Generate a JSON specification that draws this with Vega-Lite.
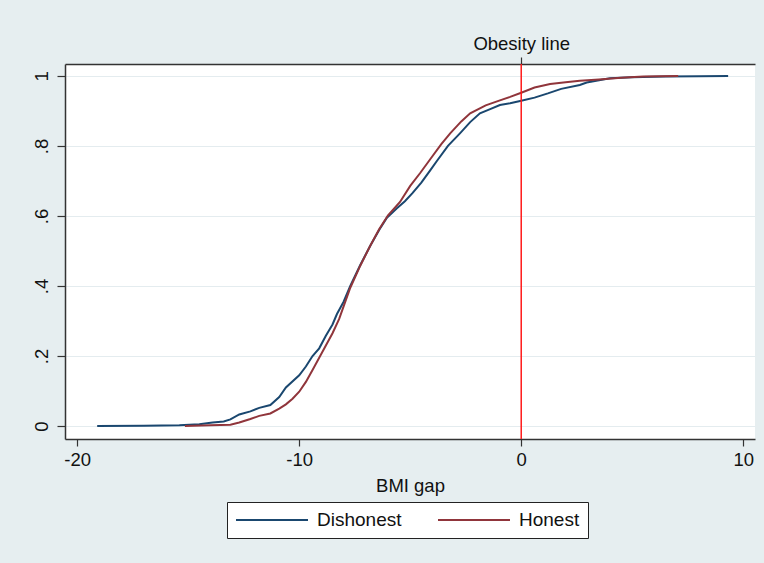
{
  "$schema": "https://vega.github.io/schema/vega-lite/v6.json",
  "autosize": {"type": "none"},
  "width": 690,
  "height": 375,
  "padding": {"left": 65, "top": 64, "right": 9, "bottom": 124},
  "background": "#e6eef0",
  "config": {
    "font": "Liberation Sans",
    "view": {"stroke": null, "fill": "white"},
    "axis": {"domainColor": "#333333", "domainWidth": 1.5, "tickColor": "#333333", "tickWidth": 1.2, "labelColor": "#111111", "titleColor": "#111111", "labelFont": "Liberation Sans", "titleFont": "Liberation Sans", "titleFontWeight": "normal"}
  },
  "datasets": {
    "cdf": [
      {"x": -19.1, "y": 0.0, "group": "Dishonest"},
      {"x": -17.0, "y": 0.001, "group": "Dishonest"},
      {"x": -15.4, "y": 0.002, "group": "Dishonest"},
      {"x": -14.5, "y": 0.005, "group": "Dishonest"},
      {"x": -13.9, "y": 0.010, "group": "Dishonest"},
      {"x": -13.4, "y": 0.013, "group": "Dishonest"},
      {"x": -13.1, "y": 0.019, "group": "Dishonest"},
      {"x": -12.7, "y": 0.033, "group": "Dishonest"},
      {"x": -12.2, "y": 0.042, "group": "Dishonest"},
      {"x": -11.8, "y": 0.052, "group": "Dishonest"},
      {"x": -11.3, "y": 0.060, "group": "Dishonest"},
      {"x": -10.9, "y": 0.083, "group": "Dishonest"},
      {"x": -10.6, "y": 0.110, "group": "Dishonest"},
      {"x": -10.0, "y": 0.145, "group": "Dishonest"},
      {"x": -9.7, "y": 0.170, "group": "Dishonest"},
      {"x": -9.4, "y": 0.200, "group": "Dishonest"},
      {"x": -9.1, "y": 0.222, "group": "Dishonest"},
      {"x": -8.8, "y": 0.258, "group": "Dishonest"},
      {"x": -8.5, "y": 0.290, "group": "Dishonest"},
      {"x": -8.3, "y": 0.320, "group": "Dishonest"},
      {"x": -8.0, "y": 0.355, "group": "Dishonest"},
      {"x": -7.7, "y": 0.400, "group": "Dishonest"},
      {"x": -7.25, "y": 0.460, "group": "Dishonest"},
      {"x": -6.8, "y": 0.515, "group": "Dishonest"},
      {"x": -6.4, "y": 0.560, "group": "Dishonest"},
      {"x": -6.05, "y": 0.595, "group": "Dishonest"},
      {"x": -5.6, "y": 0.622, "group": "Dishonest"},
      {"x": -5.24, "y": 0.642, "group": "Dishonest"},
      {"x": -4.9, "y": 0.665, "group": "Dishonest"},
      {"x": -4.5, "y": 0.695, "group": "Dishonest"},
      {"x": -4.1, "y": 0.730, "group": "Dishonest"},
      {"x": -3.8, "y": 0.757, "group": "Dishonest"},
      {"x": -3.3, "y": 0.800, "group": "Dishonest"},
      {"x": -2.76, "y": 0.836, "group": "Dishonest"},
      {"x": -2.3, "y": 0.868, "group": "Dishonest"},
      {"x": -1.86, "y": 0.893, "group": "Dishonest"},
      {"x": -1.4, "y": 0.905, "group": "Dishonest"},
      {"x": -0.96, "y": 0.917, "group": "Dishonest"},
      {"x": -0.5, "y": 0.922, "group": "Dishonest"},
      {"x": 0.0, "y": 0.929, "group": "Dishonest"},
      {"x": 0.6, "y": 0.938, "group": "Dishonest"},
      {"x": 1.2, "y": 0.950, "group": "Dishonest"},
      {"x": 1.8, "y": 0.963, "group": "Dishonest"},
      {"x": 2.64, "y": 0.974, "group": "Dishonest"},
      {"x": 2.95, "y": 0.981, "group": "Dishonest"},
      {"x": 4.0, "y": 0.993, "group": "Dishonest"},
      {"x": 5.0, "y": 0.996, "group": "Dishonest"},
      {"x": 6.5, "y": 0.998, "group": "Dishonest"},
      {"x": 8.0, "y": 0.999, "group": "Dishonest"},
      {"x": 9.32, "y": 1.0, "group": "Dishonest"},
      {"x": -15.15, "y": 0.0, "group": "Honest"},
      {"x": -14.0, "y": 0.002, "group": "Honest"},
      {"x": -13.1, "y": 0.004, "group": "Honest"},
      {"x": -12.7, "y": 0.010, "group": "Honest"},
      {"x": -12.2, "y": 0.020, "group": "Honest"},
      {"x": -11.8, "y": 0.029, "group": "Honest"},
      {"x": -11.3, "y": 0.036, "group": "Honest"},
      {"x": -10.9, "y": 0.050, "group": "Honest"},
      {"x": -10.6, "y": 0.062, "group": "Honest"},
      {"x": -10.3, "y": 0.078, "group": "Honest"},
      {"x": -10.0, "y": 0.098, "group": "Honest"},
      {"x": -9.7, "y": 0.126, "group": "Honest"},
      {"x": -9.4, "y": 0.160, "group": "Honest"},
      {"x": -9.1, "y": 0.195, "group": "Honest"},
      {"x": -8.8, "y": 0.230, "group": "Honest"},
      {"x": -8.5, "y": 0.265, "group": "Honest"},
      {"x": -8.2, "y": 0.306, "group": "Honest"},
      {"x": -7.7, "y": 0.395, "group": "Honest"},
      {"x": -7.25, "y": 0.458, "group": "Honest"},
      {"x": -6.8, "y": 0.515, "group": "Honest"},
      {"x": -6.4, "y": 0.562, "group": "Honest"},
      {"x": -6.0, "y": 0.602, "group": "Honest"},
      {"x": -5.46, "y": 0.640, "group": "Honest"},
      {"x": -5.0, "y": 0.686, "group": "Honest"},
      {"x": -4.56, "y": 0.722, "group": "Honest"},
      {"x": -4.1, "y": 0.762, "group": "Honest"},
      {"x": -3.6, "y": 0.805, "group": "Honest"},
      {"x": -3.2, "y": 0.836, "group": "Honest"},
      {"x": -2.7, "y": 0.870, "group": "Honest"},
      {"x": -2.3, "y": 0.893, "group": "Honest"},
      {"x": -1.6, "y": 0.916, "group": "Honest"},
      {"x": -0.96, "y": 0.930, "group": "Honest"},
      {"x": -0.5, "y": 0.940, "group": "Honest"},
      {"x": 0.0, "y": 0.952, "group": "Honest"},
      {"x": 0.6, "y": 0.967, "group": "Honest"},
      {"x": 1.3, "y": 0.977, "group": "Honest"},
      {"x": 2.0, "y": 0.982, "group": "Honest"},
      {"x": 2.64, "y": 0.986, "group": "Honest"},
      {"x": 3.5, "y": 0.990, "group": "Honest"},
      {"x": 4.5, "y": 0.995, "group": "Honest"},
      {"x": 5.5, "y": 0.998, "group": "Honest"},
      {"x": 7.07, "y": 1.0, "group": "Honest"}
    ],
    "refline": [{"x": 0, "label": "Obesity line"}]
  },
  "layer": [
    {
      "data": {"name": "cdf"},
      "mark": {"type": "line", "strokeWidth": 2, "interpolate": "linear"},
      "encoding": {
        "x": {
          "field": "x", "type": "quantitative",
          "scale": {"domain": [-20.55, 10.53], "nice": false, "zero": false},
          "axis": {"orient": "bottom", "values": [-20, -10, 0, 10], "title": "BMI gap", "grid": false, "tickSize": 7, "labelFontSize": 18.5, "labelPadding": 4, "titleFontSize": 18.5, "titlePadding": 8, "labelFlush": false, "labelExpr": "(datum.value < 0 ? '-' : '') + abs(datum.value)"}
        },
        "y": {
          "field": "y", "type": "quantitative",
          "scale": {"domain": [-0.037, 1.034], "nice": false, "zero": false},
          "axis": {"orient": "left", "values": [0, 0.2, 0.4, 0.6, 0.8, 1], "title": null, "grid": true, "gridColor": "#e4ecef", "gridWidth": 1.2, "tickSize": 8, "labelAngle": -90, "labelAlign": "center", "labelBaseline": "bottom", "labelPadding": 6, "labelFontSize": 18.5, "labelFlush": false, "labelExpr": "replace(format(datum.value, '~g'), '0.', '.')"}
        },
        "color": {
          "field": "group", "type": "nominal",
          "scale": {"domain": ["Dishonest", "Honest"], "range": ["#1a476f", "#90353b"]},
          "legend": {
            "title": null, "orient": "none", "legendX": 162, "legendY": 438, "direction": "horizontal",
            "fillColor": "white", "strokeColor": "#222222", "padding": 8,
            "symbolType": "M-4,0H4", "symbolSize": 324, "symbolStrokeWidth": 2, "symbolOffset": 27,
            "labelFontSize": 19, "labelColor": "#111111", "labelOffset": 35, "columnPadding": 32
          }
        }
      }
    },
    {
      "data": {"name": "refline"},
      "mark": {"type": "rule", "color": "#ff1a1a", "strokeWidth": 1.5},
      "encoding": {
        "x": {
          "field": "x", "type": "quantitative",
          "axis": {"orient": "top", "values": [0], "title": null, "grid": false, "tickSize": 7, "labelFontSize": 18.5, "labelPadding": 4, "labelExpr": "'Obesity line'", "labelFlush": false}
        }
      }
    }
  ],
  "resolve": {"axis": {"x": "independent"}}
}
